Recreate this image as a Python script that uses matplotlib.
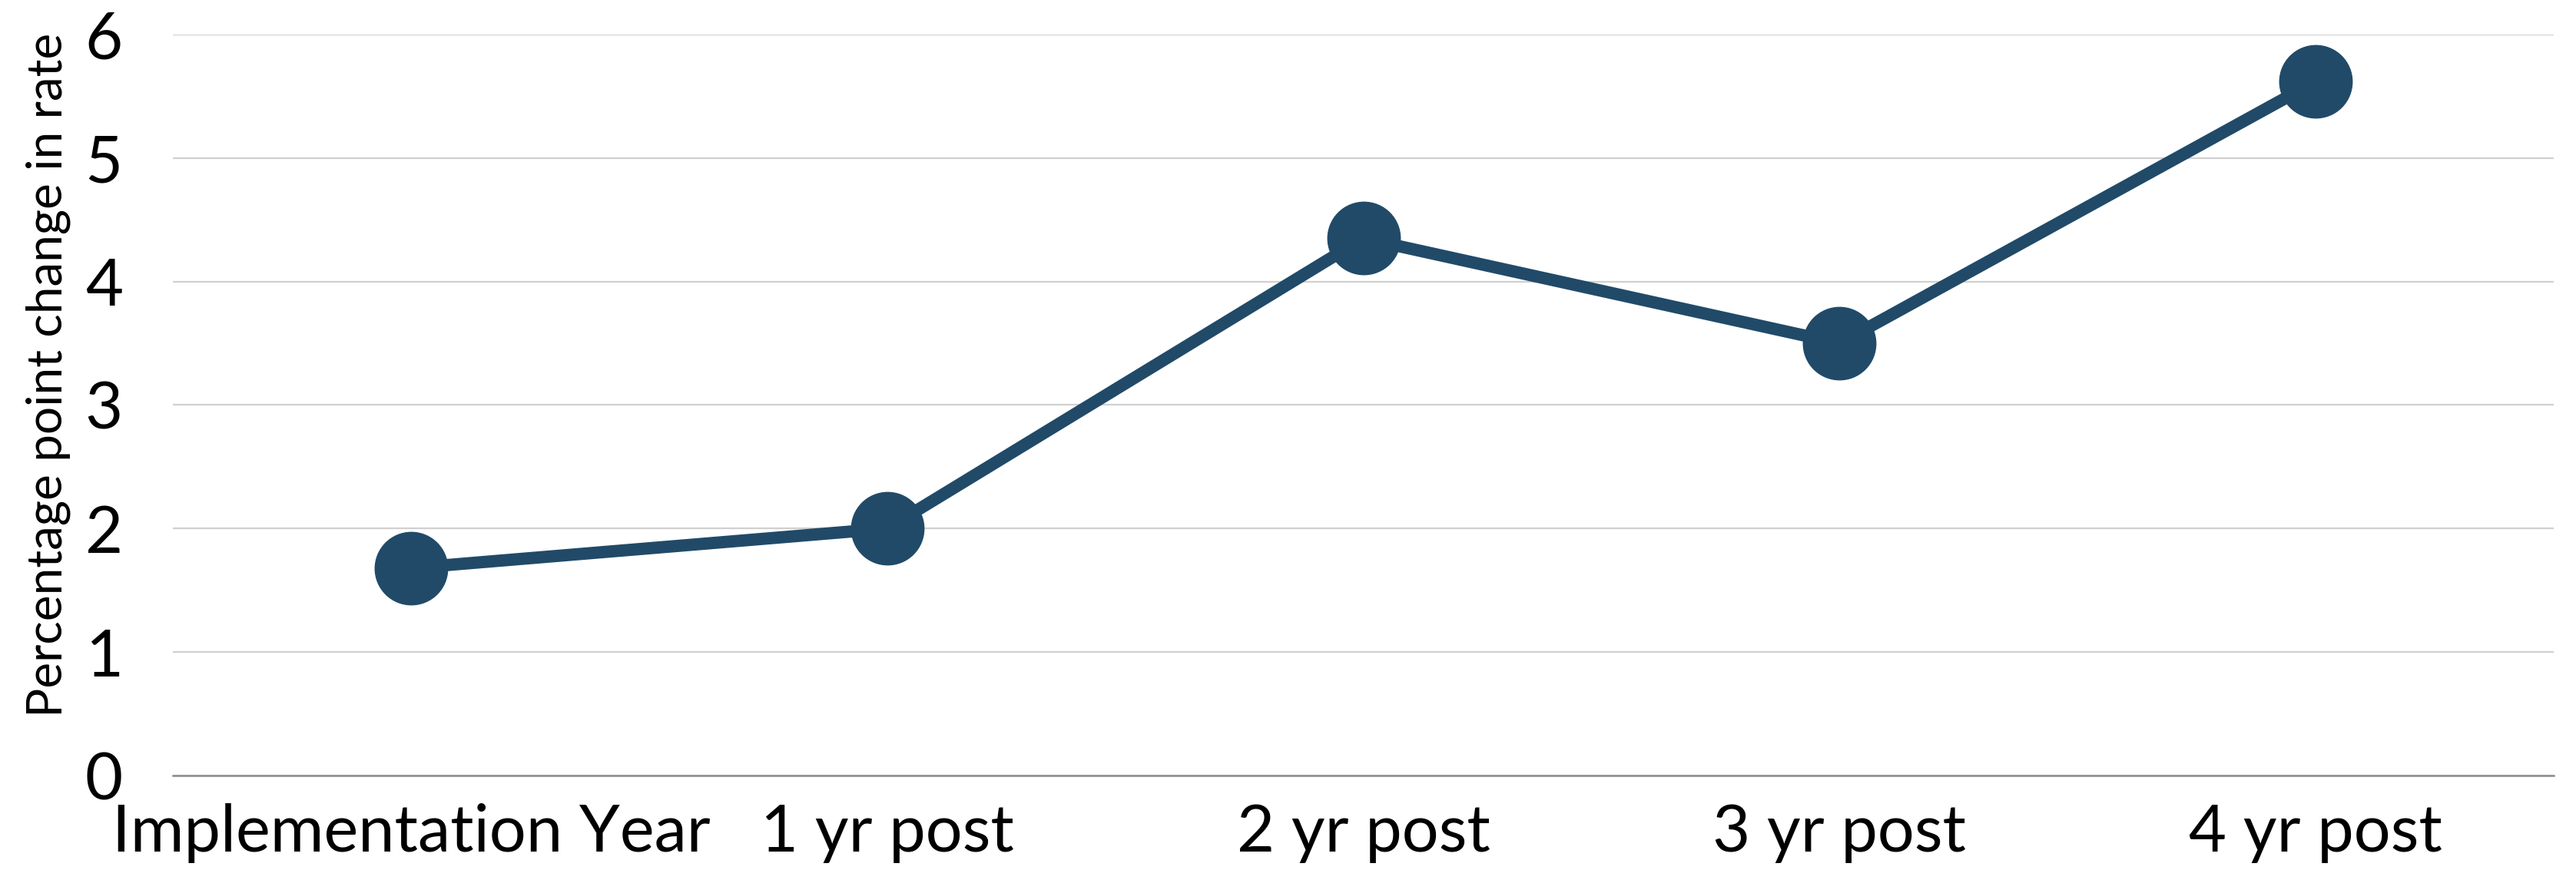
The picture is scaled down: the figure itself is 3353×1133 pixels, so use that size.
import matplotlib
matplotlib.use("Agg")
import matplotlib.pyplot as plt

plt.rcParams['font.family'] = ['Lato', 'DejaVu Sans']

# data
categories = ['Implementation Year', '1 yr post', '2 yr post', '3 yr post', '4 yr post']
change = [1.68, 2.0, 4.35, 3.5, 5.62]
yticks = [0, 1, 2, 3, 4, 5, 6]

line_color = '#214a68'

fig = plt.figure(figsize=(33.53, 11.33), dpi=100)
ax = fig.add_axes([0.0671, 0.1086, 0.9243, 0.8517])

x = list(range(len(categories)))
ax.plot(x, change, color=line_color, lw=11.5, marker='o', markersize=68,
        solid_capstyle='butt', zorder=3)

ax.set_xlim(-0.5, len(categories) - 0.5)
ax.set_ylim(0, 6)
ax.set_yticks(yticks)
ax.set_xticks(x)
ax.set_xticklabels(categories)

ax.grid(axis='y', color='#d0d0d0', lw=1.6)
ax.set_axisbelow(True)
for s in ['top', 'right', 'left']:
    ax.spines[s].set_visible(False)
ax.spines['bottom'].set_color('#8c8c8c')
ax.spines['bottom'].set_linewidth(1.8)
ax.spines['bottom'].set_zorder(1)

ax.tick_params(axis='both', length=0, labelsize=61, labelcolor='black')
ax.tick_params(axis='y', pad=47)
ax.tick_params(axis='x', pad=26)

ax.set_ylabel('Percentage point change in rate', fontsize=46)
ax.yaxis.set_label_coords(-0.043, 0.54)

fig.savefig('out.png', dpi=100)
